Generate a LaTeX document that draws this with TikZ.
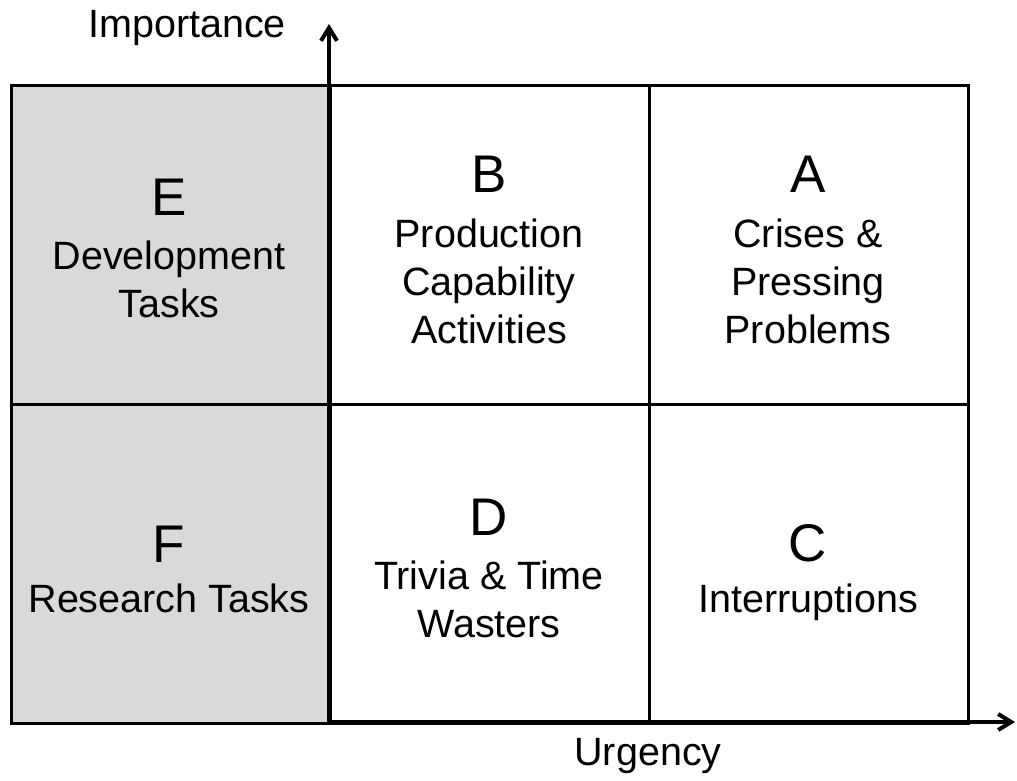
\documentclass[tikz,border=0pt]{standalone}
\usepackage{fontspec}
\setmainfont{Liberation Sans}
\usetikzlibrary{arrows.meta}
\definecolor{cellgray}{HTML}{D9D9D9}
\begin{document}
\begin{tikzpicture}[x=1pt,y=-1pt,
  cell/.style={draw=black,line width=3pt,minimum width=319pt,minimum height=319pt,inner sep=0pt,anchor=north west},
  letter/.style={anchor=base,inner sep=0pt,font=\fontsize{53}{60}\selectfont},
  label/.style={anchor=base,inner sep=0pt,align=center,font=\fontsize{39.5}{48}\selectfont},
  axis/.style={line width=4pt,-{Straight Barb[length=13pt,width=16pt,line width=4pt]}}]
\useasboundingbox (0,0) rectangle (1017,780);
\node[cell,fill=cellgray] (E) at (10,84) {};
\node[cell,fill=cellgray] (F) at (10,403) {};
\node[cell] (B) at (329,84) {};
\node[cell] (A) at (648,84) {};
\node[cell] (D) at (329,403) {};
\node[cell] (C) at (648,403) {};
% texts (multi-line labels: base = last line's baseline)
\node[letter] (tE) at (169,215) {E};
\node[label] (lE) at (169,317) {Development\\Tasks};
\node[letter] (tB) at (489,192) {B};
\node[label] (lB) at (489,343) {Production\\Capability\\Activities};
\node[letter] (tA) at (808,192) {A};
\node[label] (lA) at (808,343) {Crises \&\\Pressing\\Problems};
\node[letter] (tF) at (169,562) {F};
\node[label] (lF) at (169,612) {Research Tasks};
\node[letter] (tD) at (489,535) {D};
\node[label] (lD) at (489,637) {Trivia \& Time\\Wasters};
\node[letter] (tC) at (808,561) {C};
\node[label] (lC) at (808,612) {Interruptions};
% axes
\coordinate (O) at (329,722);
\coordinate (ytip) at (329,24);
\coordinate (xtip) at (1015,721);
\draw[axis] (O) -- (ytip);
\draw[axis] (O) -- (xtip |- O);
\node[label] (imp) at (187,37) {Importance};
\node[label] (urg) at (648,765) {Urgency};
\end{tikzpicture}
\end{document}
